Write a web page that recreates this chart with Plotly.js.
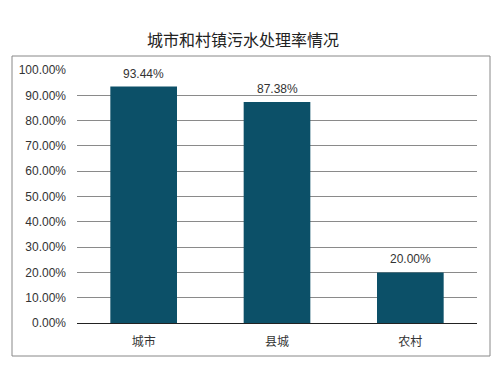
<!DOCTYPE html>
<html><head><meta charset="utf-8">
<script src="https://cdn.plot.ly/plotly-3.0.1.min.js"></script>
<style>html,body{margin:0;padding:0;background:#fff;}#c{width:503px;height:369px;}</style>
</head><body><div id="c"></div>
<script>
const categories = ["城市", "县城", "农村"];
const rates = [93.44, 87.38, 20.00];
const yTickVals = [0,10,20,30,40,50,60,70,80,90,100];
const yTickText = yTickVals.map(v => v.toFixed(2) + "%");

const FONT = "Liberation Sans, Arial, Noto Sans CJK SC, sans-serif";
const L = 77, R = 477, T = 70, B = 323, W = 503, H = 369;
const pw = R - L, ph = B - T;
const px = x => (x - L) / pw;
const py = y => (B - y) / ph;

Plotly.newPlot("c", [{
  type: "bar",
  x: categories,
  y: rates,
  marker: {color: "#0c5068"},
  width: 0.5,
  hoverinfo: "none"
}], {
  width: W, height: H,
  margin: {l: L, r: W - R, t: T, b: H - B, pad: 0},
  paper_bgcolor: "#fff", plot_bgcolor: "#fff",
  showlegend: false,
  font: {family: FONT, color: "#333"},
  title: {text: "城市和村镇污水处理率情况", x: 243 / W, xanchor: "center", y: 1 - 40 / H, yanchor: "middle",
    font: {family: "Noto Sans CJK SC, sans-serif", size: 16, color: "#222"}},
  xaxis: {
    showgrid: false, showline: true, linecolor: "#222", linewidth: 1,
    ticks: "", ticklabelstandoff: 8,
    tickfont: {family: "Noto Sans CJK SC, sans-serif", size: 12, color: "#333"}
  },
  yaxis: {
    range: [0, 100], tickvals: yTickVals, ticktext: yTickText,
    showgrid: true, gridcolor: "#8a8a8a", gridwidth: 1,
    zeroline: false, showline: false, ticks: "", ticklabelstandoff: 10,
    tickfont: {family: FONT, size: 12, color: "#333"}
  },
  annotations: categories.map((c, i) => ({
    x: c, y: rates[i], xref: "x", yref: "y",
    text: rates[i].toFixed(2) + "%", showarrow: false,
    yanchor: "bottom", yshift: 4,
    font: {family: FONT, size: 12, color: "#333"}
  })),
  shapes: [{
    type: "rect", xref: "paper", yref: "paper",
    x0: px(12), x1: px(490), y0: py(356), y1: py(56),
    line: {color: "#888", width: 1}, fillcolor: "rgba(0,0,0,0)", layer: "below"
  }]
}, {displayModeBar: false, staticPlot: true});
</script></body></html>
